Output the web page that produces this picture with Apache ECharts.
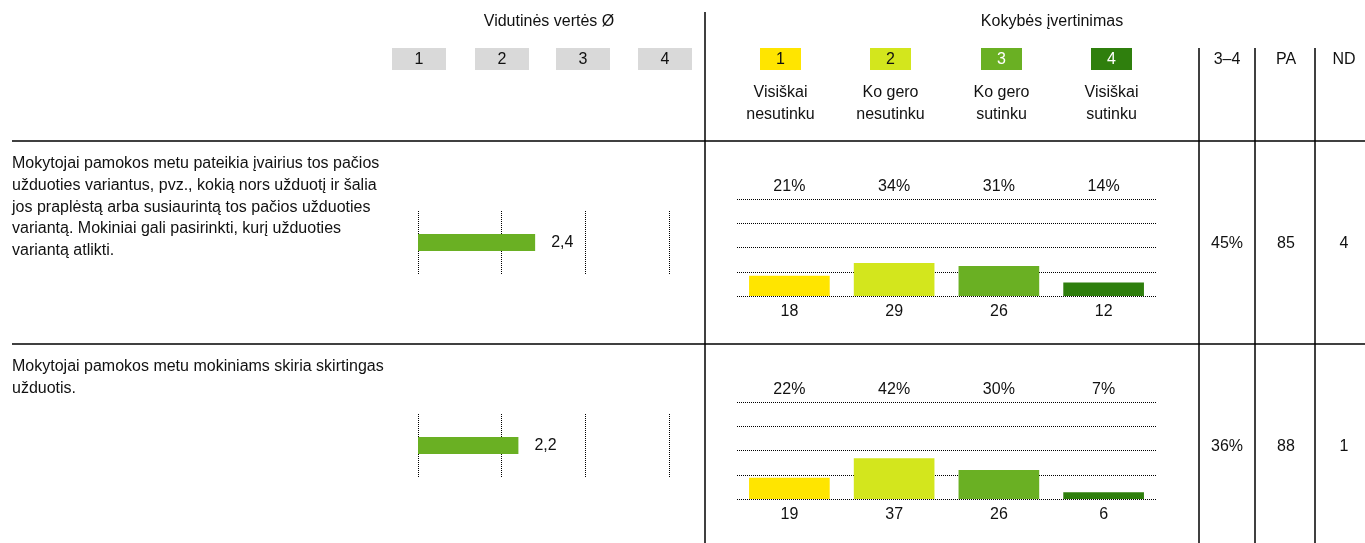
<!DOCTYPE html>
<html lang="lt">
<head>
<meta charset="UTF-8">
<title></title>
<script src="https://cdn.jsdelivr.net/npm/echarts@6/dist/echarts.min.js"></script>
<style>
html, body { margin: 0; padding: 0; background: #fff; }
#main { width: 1365px; height: 543px; }
</style>
</head>
<body>
<div id="main"></div>
<script>
// statements (rows)
var items = [
  'Mokytojai pamokos metu pateikia įvairius tos pačios\nužduoties variantus, pvz., kokią nors užduotį ir šalia\njos praplėstą arba susiaurintą tos pačios užduoties\nvariantą. Mokiniai gali pasirinkti, kurį užduoties\nvariantą atlikti.',
  'Mokytojai pamokos metu mokiniams skiria skirtingas\nužduotis.'
];
var means = [2.4, 2.2];
var scaleTicks = ['1', '2', '3', '4'];
var answerLabels = ['Visiškai\nnesutinku', 'Ko gero\nnesutinku', 'Ko gero\nsutinku', 'Visiškai\nsutinku'];
var answerColors = ['#ffe500', '#d3e61d', '#6ab023', '#2f7f0d'];
var pct = [[21, 34, 31, 14], [22, 42, 30, 7]];
var counts = [[18, 29, 26, 12], [19, 37, 26, 6]];
var agree = [45, 36];
var pa = [85, 88];
var nd = [4, 1];
var extraCols = ['3–4', 'PA', 'ND'];

var FONT = "'Liberation Sans', Arial, sans-serif";
var FS = 16;
var rowTop = [141, 344];

var chart = echarts.init(document.getElementById('main'));

var grids = [], xAxes = [], yAxes = [], series = [], graphic = [];

// mean value grids (1..4)
items.forEach(function (t, i) {
  grids.push({ left: 418, width: 251, top: rowTop[i] + 70, height: 63 });
  xAxes.push({
    gridIndex: i, type: 'value', min: 1, max: 4, interval: 1,
    axisLine: { show: false }, axisTick: { show: false }, axisLabel: { show: false },
    splitLine: { show: true, lineStyle: { color: '#000', width: 1, type: [1, 1] } }
  });
  yAxes.push({ gridIndex: i, type: 'category', data: [''], show: false });
  series.push({
    type: 'bar', xAxisIndex: xAxes.length - 1, yAxisIndex: yAxes.length - 1,
    data: [means[i]], barWidth: 17, itemStyle: { color: '#6ab023' },
    label: {
      show: true, position: 'right', distance: 16, color: '#111',
      fontFamily: FONT, fontSize: FS,
      formatter: function (p) { return String(p.value).replace('.', ','); }
    },
    silent: true
  });
});

// answer distribution grids
items.forEach(function (t, i) {
  var g = grids.length;
  grids.push({ left: 737, width: 419, top: rowTop[i] + 58, height: 97 });
  xAxes.push({
    gridIndex: g, type: 'category', data: answerLabels, position: 'bottom',
    axisLine: { show: false }, axisTick: { show: false },
    axisLabel: {
      margin: 8, color: '#111', fontFamily: FONT, fontSize: FS,
      formatter: function (v, k) { return String(counts[i][k]); }
    }
  });
  var bottomX = xAxes.length - 1;
  xAxes.push({
    gridIndex: g, type: 'category', data: answerLabels, position: 'top',
    axisLine: { show: false }, axisTick: { show: false },
    axisLabel: {
      margin: 4, color: '#111', fontFamily: FONT, fontSize: FS,
      formatter: function (v, k) { return pct[i][k] + '%'; }
    }
  });
  yAxes.push({
    gridIndex: g, type: 'value', min: 0, max: 100, interval: 25,
    axisLine: { show: false }, axisTick: { show: false }, axisLabel: { show: false },
    splitLine: { show: true, lineStyle: { color: '#000', width: 1, type: [1, 1] } }
  });
  series.push({
    type: 'bar', xAxisIndex: bottomX, yAxisIndex: yAxes.length - 1,
    barWidth: '77%', silent: true,
    data: pct[i].map(function (v, k) {
      return { value: v, itemStyle: { color: answerColors[k] } };
    })
  });
});

function txt(s, x, y, opts) {
  var st = {
    text: s, x: x, y: y, fill: '#111', fontFamily: FONT, fontSize: FS,
    align: 'center', verticalAlign: 'middle'
  };
  for (var k in (opts || {})) st[k] = opts[k];
  return { type: 'text', silent: true, style: st };
}
function line(x1, y1, x2, y2) {
  return { type: 'line', silent: true, shape: { x1: x1, y1: y1, x2: x2, y2: y2 },
    style: { stroke: '#000', lineWidth: 1.5 } };
}

// headers
graphic.push(txt('Vidutinės vertės Ø', 549, 22));
graphic.push(txt('Kokybės įvertinimas', 1052, 22));
var greyX = [419, 502, 583, 665];
scaleTicks.forEach(function (s, k) {
  graphic.push({ type: 'rect', silent: true, shape: { x: greyX[k] - 27, y: 48, width: 54, height: 22 }, style: { fill: '#d9d9d9' } });
  graphic.push(txt(s, greyX[k], 60));
});
var colX = [780.5, 890.5, 1001.5, 1111.5];
scaleTicks.forEach(function (s, k) {
  graphic.push({ type: 'rect', silent: true, shape: { x: colX[k] - 20.5, y: 48, width: 41, height: 22 }, style: { fill: answerColors[k] } });
  graphic.push(txt(s, colX[k], 60, { fill: k < 2 ? '#111' : '#fff' }));
  graphic.push(txt(answerLabels[k], colX[k], 104, { lineHeight: 22 }));
});
var extraX = [1227, 1286, 1344];
extraCols.forEach(function (s, k) { graphic.push(txt(s, extraX[k], 60)); });

// grid lines of the table
graphic.push(line(705, 12, 705, 543));
[1199, 1255, 1315].forEach(function (x) { graphic.push(line(x, 48, x, 543)); });
rowTop.forEach(function (y) { graphic.push(line(12, y, 1365, y)); });

// row texts and extra columns
items.forEach(function (t, i) {
  graphic.push(txt(t, 12, rowTop[i] + 12, { align: 'left', verticalAlign: 'top', lineHeight: 21.7 }));
  var yv = rowTop[i] + 103;
  graphic.push(txt(agree[i] + '%', extraX[0], yv));
  graphic.push(txt(String(pa[i]), extraX[1], yv));
  graphic.push(txt(String(nd[i]), extraX[2], yv));
});

chart.setOption({
  animation: false,
  grid: grids,
  xAxis: xAxes,
  yAxis: yAxes,
  series: series,
  graphic: graphic
});
</script>
</body>
</html>
